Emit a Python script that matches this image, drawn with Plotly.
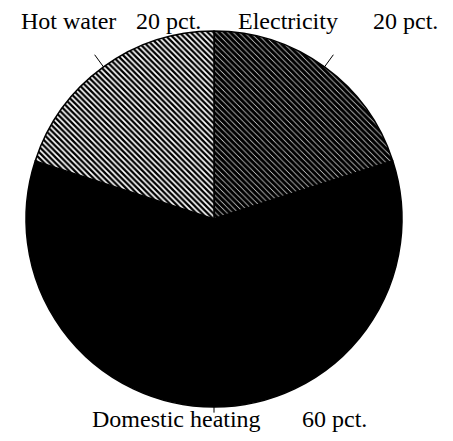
import math
import plotly.graph_objects as go

# energy use shares, clockwise from 12 o'clock
labels = ["Electricity", "Domestic heating", "Hot water"]
shares = [20, 60, 20]
pct_text = ["20 pct.", "60 pct.", "20 pct."]

W, H = 453, 441
OFF = 8  # page body margin pushes the plot down/right
CX, CY, R = 214 - OFF, 219 - OFF, 188  # pie centre and radius in pixels

fig = go.Figure()

fig.add_trace(go.Pie(
    labels=labels,
    values=shares,
    sort=False,
    direction="clockwise",
    rotation=0,
    textinfo="none",
    hoverinfo="label+percent",
    showlegend=False,
    marker=dict(
        colors=["white", "black", "white"],
        line=dict(color="black", width=1.5),
        pattern=dict(
            shape=["\\", "", "\\"],
            fgcolor="black",
            bgcolor=["white", "black", "white"],
            size=[4, 4, 4],
            solidity=[0.85, 0.5, 0.58],
        ),
    ),
    domain=dict(x=[(CX - R) / W, (CX + R) / W],
                y=[(H - CY - R) / H, (H - CY + R) / H]),
))


def to_paper(px, py):
    return px / W, (H - py) / H


# short leader ticks at the middle of each slice
total = sum(shares)
start = 0
shapes = []
for v in shares:
    mid = (start + v / 2) / total * 2 * math.pi
    start += v
    pts = []
    for rr in (1.0, 1.08):
        px = CX + R * rr * math.sin(mid)
        py = CY - R * rr * math.cos(mid)
        pts.append(to_paper(px, py))
    if v > 50:
        # bottom tick is only a stub in the original
        pts[1] = to_paper(CX, CY + R * 1.03)
    shapes.append(dict(type="line", xref="paper", yref="paper",
                       x0=pts[0][0], y0=pts[0][1], x1=pts[1][0], y1=pts[1][1],
                       line=dict(color="black", width=1)))

font = dict(family="Liberation Serif", size=24, color="black")
# label name and percentage placed as in the original figure
label_pos = {
    "Electricity": ((288, 21), (405, 21)),
    "Domestic heating": ((176, 419), (334, 419)),
    "Hot water": ((68, 21), (168, 21)),
}
annotations = []
for name, txt in zip(labels, pct_text):
    (nx, ny), (tx, ty) = label_pos[name]
    for s, (x, y) in ((name, (nx, ny)), (txt, (tx, ty))):
        xp, yp = to_paper(x - OFF, y - OFF)
        annotations.append(dict(text=s, x=xp, y=yp, xref="paper", yref="paper",
                                showarrow=False, font=font,
                                xanchor="center", yanchor="middle"))

fig.update_layout(
    width=W, height=H,
    margin=dict(l=0, r=0, t=0, b=0),
    paper_bgcolor="white",
    plot_bgcolor="white",
    shapes=shapes,
    annotations=annotations,
)

fig.write_html("out.html")
